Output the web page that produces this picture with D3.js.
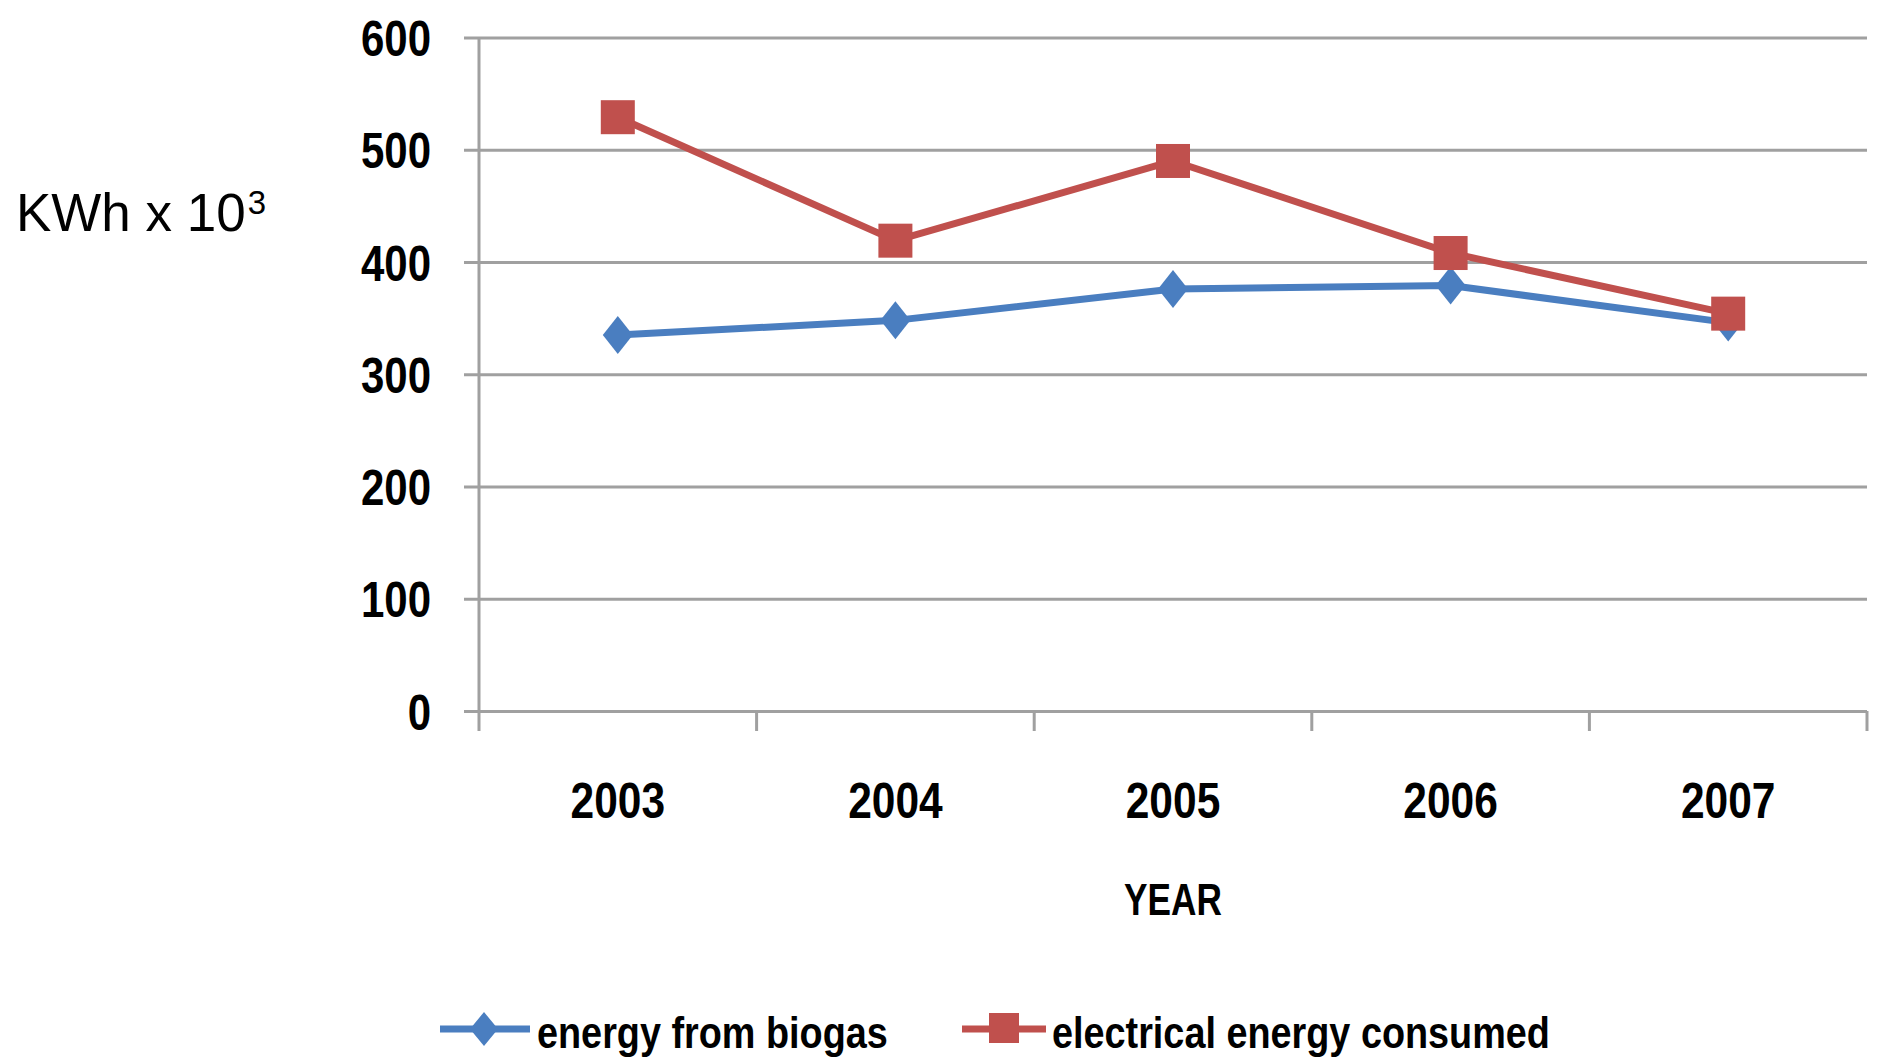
<!DOCTYPE html>
<html>
<head>
<meta charset="utf-8">
<script src="https://cdn.jsdelivr.net/npm/d3@7/dist/d3.min.js"></script>
<style>
  html, body { margin: 0; padding: 0; background: #ffffff; }
  svg { display: block; }
  .narrow { font-family: "Liberation Sans Narrow", "Arial Narrow", "Liberation Sans", Arial, sans-serif; font-weight: bold; fill: #000; }
</style>
</head>
<body>
<svg id="chart" width="1877" height="1059"></svg>
<script>
const years = ["2003", "2004", "2005", "2006", "2007"];
const biogas = [335, 348, 376, 379, 346];
const consumed = [529, 419, 490, 408, 354];
const yTicks = [0, 100, 200, 300, 400, 500, 600];
const seriesNames = ["energy from biogas", "electrical energy consumed"];
const yAxisTitle = "KWh x 10";
const yAxisTitleSup = "3";
const xAxisTitle = "YEAR";

const blue = "#4A7EC0";
const red = "#C0504D";
const grid = "#A0A0A0";

const svg = d3.select("#chart");

// squeeze bold text horizontally to mimic a narrow typeface
function squeeze(sel, f) {
  sel.each(function () {
    const len = this.getComputedTextLength();
    d3.select(this).attr("textLength", len * f).attr("lengthAdjust", "spacingAndGlyphs");
  });
}

const x = d3.scaleBand().domain(years).range([479, 1867]).padding(0);
const y = d3.scaleLinear().domain([0, 600]).range([711, 37.5]);

// gridlines (with left tick stubs)
const yAxis = d3.axisLeft(y).tickValues(yTicks).tickSize(-(1867 - 464)).tickFormat(d => d).tickPadding(0);
const gy = svg.append("g").attr("transform", "translate(464,0)").call(yAxis);
gy.select(".domain").remove();
gy.selectAll(".tick line").attr("stroke", grid).attr("stroke-width", 3);
gy.selectAll(".tick text")
  .attr("class", "narrow")
  .attr("x", -33)
  .attr("dy", "0.36em")
  .attr("font-size", 50)
  .attr("text-anchor", "end")
  .call(squeeze, 0.84);

// vertical axis line
svg.append("line")
  .attr("x1", 479).attr("x2", 479)
  .attr("y1", y(600)).attr("y2", 731)
  .attr("stroke", grid).attr("stroke-width", 3);

// x axis ticks at band boundaries
const bounds = years.map(d => x(d)).concat([x(years[years.length - 1]) + x.bandwidth()]);
svg.append("g").selectAll("line").data(bounds.slice(1)).join("line")
  .attr("x1", d => d).attr("x2", d => d)
  .attr("y1", y(0)).attr("y2", 731)
  .attr("stroke", grid).attr("stroke-width", 3);

// x tick labels
svg.append("g").selectAll("text").data(years).join("text")
  .attr("class", "narrow")
  .attr("x", d => x(d) + x.bandwidth() / 2)
  .attr("y", 818)
  .attr("font-size", 50)
  .attr("text-anchor", "middle")
  .text(d => d)
  .call(squeeze, 0.85);

// axis titles
svg.append("text")
  .attr("class", "narrow")
  .attr("x", x(years[2]) + x.bandwidth() / 2)
  .attr("y", 915)
  .attr("font-size", 44)
  .attr("text-anchor", "middle")
  .text(xAxisTitle)
  .call(squeeze, 0.8);

const yt = svg.append("text")
  .attr("x", 16).attr("y", 231)
  .attr("font-family", "Liberation Sans, Arial, sans-serif")
  .attr("font-size", 53)
  .attr("fill", "#000");
yt.append("tspan").text(yAxisTitle);
yt.append("tspan").attr("font-size", 33).attr("dy", -17).attr("dx", 2).text(yAxisTitleSup);

// lines
const line = d3.line()
  .x((d, i) => x(years[i]) + x.bandwidth() / 2)
  .y(d => y(d));

svg.append("path").datum(biogas)
  .attr("d", line).attr("fill", "none")
  .attr("stroke", blue).attr("stroke-width", 7).attr("stroke-linejoin", "round");

svg.append("path").datum(consumed)
  .attr("d", line).attr("fill", "none")
  .attr("stroke", red).attr("stroke-width", 7).attr("stroke-linejoin", "round");

// markers
const diamond = "M0,-19 L15,0 L0,19 L-15,0 Z";
svg.append("g").selectAll("path").data(biogas).join("path")
  .attr("d", diamond)
  .attr("transform", (d, i) => `translate(${x(years[i]) + x.bandwidth() / 2},${y(d)})`)
  .attr("fill", blue);

svg.append("g").selectAll("rect").data(consumed).join("rect")
  .attr("x", (d, i) => x(years[i]) + x.bandwidth() / 2 - 17)
  .attr("y", d => y(d) - 17)
  .attr("width", 34).attr("height", 34)
  .attr("fill", red);

// legend
const lg = svg.append("g");
const leg = [
  { name: seriesNames[0], color: blue, x0: 440, x1: 530, mx: 484, kind: "diamond", tx: 537 },
  { name: seriesNames[1], color: red, x0: 962, x1: 1046, mx: 1004, kind: "square", tx: 1052 }
];
const ly = 1029;
leg.forEach(l => {
  lg.append("line").attr("x1", l.x0).attr("x2", l.x1).attr("y1", ly).attr("y2", ly)
    .attr("stroke", l.color).attr("stroke-width", 7);
  if (l.kind === "diamond") {
    lg.append("path").attr("d", "M0,-17 L14,0 L0,17 L-14,0 Z")
      .attr("transform", `translate(${l.mx},${ly})`).attr("fill", l.color);
  } else {
    lg.append("rect").attr("x", l.mx - 15).attr("y", ly - 16).attr("width", 30).attr("height", 30)
      .attr("fill", l.color);
  }
  lg.append("text").attr("class", "narrow")
    .attr("x", l.tx).attr("y", 1048)
    .attr("font-size", 45)
    .text(l.name)
    .call(squeeze, 0.84);
});
</script>
</body>
</html>
